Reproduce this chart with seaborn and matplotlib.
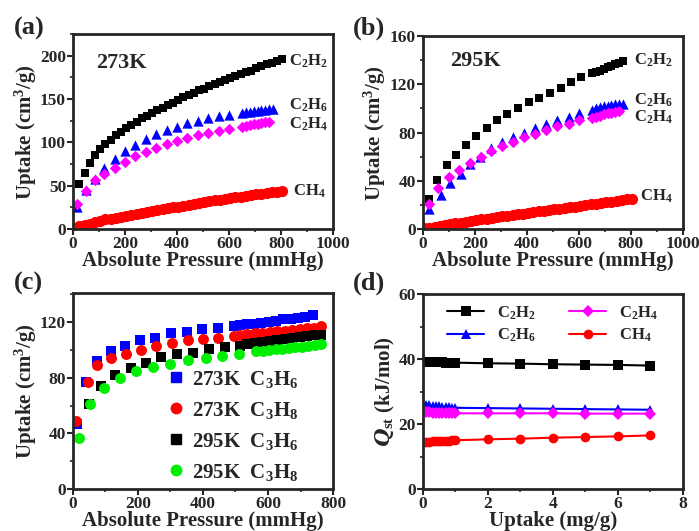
import matplotlib
matplotlib.use("Agg")
import matplotlib.pyplot as plt
from matplotlib.ticker import MultipleLocator
import seaborn as sns

# ---- (a) 273 K isotherms ----
a_c2h2_x = [8, 25, 45, 65, 85, 105, 125, 145, 165, 185, 205, 225, 245, 265, 285, 305, 325, 345, 365, 385, 405,
            425, 445, 465, 485, 505, 525, 545, 565, 585, 605, 625, 645, 665, 685, 705, 725, 745, 765, 785, 805]
a_c2h2_y = [24, 52, 65, 76, 85, 92, 98, 103, 108, 112, 117, 120, 124, 128, 131, 134, 137, 140, 143, 146, 149,
            152, 155, 157, 160, 162, 165, 167, 170, 172, 174, 177, 179, 181, 183, 186, 188, 190, 192, 194, 196]
a_c2h6_x = [15, 50, 85, 120, 160, 200, 240, 280, 320, 360, 400, 440, 480, 520, 560, 600, 650, 665, 680, 695,
            710, 725, 740, 755, 770]
a_c2h6_y = [25, 45, 58, 70, 81, 90, 97, 104, 110, 114, 118, 122, 125, 128, 130, 132, 134, 135, 135, 136,
            136, 137, 137, 138, 138]
a_c2h4_x = [15, 50, 85, 120, 160, 200, 240, 280, 320, 360, 400, 440, 480, 520, 560, 600, 650, 665, 680, 695,
            710, 725, 740, 755]
a_c2h4_y = [29, 44, 57, 64, 71, 77, 84, 89, 94, 98, 102, 105, 108, 111, 113, 116, 118, 119, 120, 121,
            121, 122, 123, 124]
a_ch4_x = [5, 25, 45, 65, 85, 105, 125, 145, 165, 185, 205, 225, 245, 265, 285, 305, 325, 345, 365, 385, 405,
           425, 445, 465, 485, 505, 525, 545, 565, 585, 605, 625, 645, 665, 685, 705, 725, 745, 765, 785, 805]
a_ch4_y = [1, 3, 5, 6, 8, 9, 11, 12, 13, 14, 15, 16.5, 17.5, 19, 20, 21, 22, 23, 24, 25, 26,
           27, 28, 29, 30, 31, 32, 33, 34, 35, 35.5, 36.5, 37.5, 38.5, 39, 40, 41, 42, 42.5, 43, 44]

# ---- (b) 295 K isotherms ----
b_c2h2_x = [24, 56, 92, 128, 166, 205, 246, 284, 325, 367, 408, 448, 489, 530, 570, 609, 650, 665, 680, 695,
            710, 725, 740, 755, 770]
b_c2h2_y = [25, 41, 53, 61, 70, 77, 84, 90, 95, 100, 105, 109, 113, 117, 122, 126, 129, 130, 131, 133,
            134, 135, 137, 138, 139]
b_c2h6_x = [24, 68, 105, 145, 182, 220, 262, 304, 345, 389, 433, 475, 517, 560, 602, 650, 665, 680, 695,
            710, 725, 740, 755, 770]
b_c2h6_y = [17, 28, 38, 46, 54, 60, 67, 72, 76, 80, 84, 87, 90, 93, 96, 99, 100, 101, 102,
            102, 103, 104, 104, 104]
b_c2h4_x = [24, 60, 100, 140, 180, 222, 262, 304, 345, 389, 433, 475, 517, 560, 602, 650, 665, 680, 695,
            710, 725, 740, 755]
b_c2h4_y = [21, 34, 43, 49, 55, 60, 65, 69, 72, 76, 79, 82, 85, 87, 90, 92, 93, 94, 95,
            96, 96, 97, 98]
b_ch4_x = [5, 25, 45, 65, 85, 105, 125, 145, 165, 185, 205, 225, 245, 265, 285, 305, 325, 345, 365, 385, 405,
           425, 445, 465, 485, 505, 525, 545, 565, 585, 605, 625, 645, 665, 685, 705, 725, 745, 765, 785, 805]
b_ch4_y = [0.5, 1.2, 2, 2.7, 3.4, 4, 4.7, 5.4, 6, 6.7, 7.3, 8, 8.6, 9.2, 9.8, 10.4, 11, 11.6, 12.2, 12.8, 13.4,
           14, 14.6, 15.2, 15.8, 16.4, 17, 17.5, 18, 18.6, 19.2, 19.8, 20.4, 21, 21.6, 22.2, 22.8, 23.4, 24, 24.6, 25.2]

# ---- (c) C3 isotherms ----
c_273_c3h6_x = [12, 40, 74, 116, 159, 205, 252, 303, 351, 398, 445, 494, 513, 535, 557, 580, 602, 625, 647,
                670, 692, 715, 737]
c_273_c3h6_y = [47, 77, 92, 99, 103, 107, 109, 112, 113, 115, 116, 117, 118, 118.5, 119, 119.5, 120, 121, 122,
                122.5, 123, 124, 125]
c_273_c3h8_x = [10, 46, 74, 116, 162, 210, 256, 305, 353, 400, 447, 495, 513, 536, 559, 582, 605, 628, 651,
                674, 697, 720, 743, 764]
c_273_c3h8_y = [49, 77, 89, 94, 97, 100, 103, 105, 107, 108, 109, 110, 111, 111.5, 112, 112.5, 113, 113.5, 114,
                114.5, 115, 116, 116, 117]
c_295_c3h6_x = [49, 87, 129, 177, 224, 272, 320, 369, 418, 467, 513, 536, 559, 582, 605, 628, 651, 674, 697,
                720, 743, 764]
c_295_c3h6_y = [61, 74, 82, 87, 91, 95, 97, 98, 101, 102, 103, 104, 105, 106, 106.5, 107, 108, 109, 109.5,
                110, 110.5, 111]
c_295_c3h8_x = [18, 53, 95, 144, 195, 246, 299, 354, 408, 459, 511, 564, 584, 604, 624, 644, 664, 684, 704,
                724, 744, 764]
c_295_c3h8_y = [37, 61, 73, 80, 85, 88, 90, 93, 94, 96, 97, 99, 99.5, 100, 100.5, 101, 101.5, 102, 102.5,
                103, 103.5, 104]

# ---- (d) isosteric heats ----
d_x = [0.1, 0.2, 0.3, 0.4, 0.5, 0.6, 0.7, 0.8, 0.9, 1.0, 2, 3, 4, 5, 6, 7]
d_c2h2 = [39.2, 39.1, 39.1, 39.0, 39.0, 39.0, 38.9, 38.9, 38.9, 38.9, 38.7, 38.6, 38.4, 38.3, 38.2, 38.0]
d_c2h6 = [26.0, 25.8, 25.6, 25.5, 25.4, 25.3, 25.2, 25.1, 25.0, 25.0, 24.9, 24.8, 24.7, 24.6, 24.5, 24.4]
d_c2h4 = [23.8, 23.6, 23.5, 23.4, 23.4, 23.4, 23.3, 23.3, 23.3, 23.3, 23.3, 23.3, 23.3, 23.2, 23.2, 23.2]
d_ch4 = [14.6, 14.6, 14.7, 14.7, 14.8, 14.8, 14.9, 14.9, 15.0, 15.0, 15.3, 15.5, 15.8, 16.0, 16.2, 16.5]

sns.set_style("ticks")
plt.rcParams["font.family"] = ["Liberation Serif", "DejaVu Serif"]
plt.rcParams["font.weight"] = "bold"
plt.rcParams["axes.labelweight"] = "bold"
plt.rcParams["mathtext.fontset"] = "custom"
plt.rcParams["mathtext.rm"] = "Liberation Serif:weight=bold"
plt.rcParams["mathtext.it"] = "DejaVu Serif:style=italic:weight=bold"
plt.rcParams["mathtext.bf"] = "Liberation Serif:weight=bold"
plt.rcParams["mathtext.default"] = "rm"

TICK = 12.5
LAB = 15

fig = plt.figure(figsize=(6.99, 5.31), dpi=100)
ax_a = fig.add_axes([0.1044, 0.5687, 0.372, 0.367])
ax_b = fig.add_axes([0.605, 0.5687, 0.372, 0.3635])
ax_c = fig.add_axes([0.1044, 0.0791, 0.372, 0.369])
ax_d = fig.add_axes([0.605, 0.0791, 0.372, 0.367])


def style(ax, xlim, ylim, xmaj, ymaj, xlabel, ylabel):
    ax.set_xlim(*xlim)
    ax.set_ylim(*ylim)
    ax.xaxis.set_major_locator(MultipleLocator(xmaj))
    ax.xaxis.set_minor_locator(MultipleLocator(xmaj / 2))
    ax.yaxis.set_major_locator(MultipleLocator(ymaj))
    ax.yaxis.set_minor_locator(MultipleLocator(ymaj / 2))
    ax.tick_params(which="major", direction="out", length=4, width=1.5, labelsize=TICK, pad=1)
    ax.tick_params(which="minor", direction="out", length=2.5, width=1.2)
    for s in ax.spines.values():
        s.set_linewidth(2)
        s.set_visible(True)
    ax.set_xlabel(xlabel, fontsize=LAB, fontweight="bold", labelpad=-1)
    ax.set_ylabel(ylabel, fontsize=LAB, fontweight="bold", labelpad=1)


def pts(ax, x, y, color, marker, s):
    sns.scatterplot(x=x, y=y, ax=ax, color=color, marker=marker, s=s, linewidth=0)


# (a)
pts(ax_a, a_ch4_x, a_ch4_y, "#ff0000", "o", 65)
pts(ax_a, a_c2h2_x, a_c2h2_y, "black", "s", 40)
pts(ax_a, a_c2h6_x, a_c2h6_y, "#0000ff", "^", 55)
pts(ax_a, a_c2h4_x, a_c2h4_y, "#ff00ff", "D", 34)
style(ax_a, (0, 1000), (0, 225), 200, 50, "Absolute Pressure (mmHg)", "Uptake (cm$^3$/g)")
ax_a.set_yticks([0, 50, 100, 150, 200])
ax_a.text(90, 192, "273K", fontsize=16, fontweight="bold", va="center")
for lab, yy in [("C$_2$H$_2$", 194), ("C$_2$H$_6$", 143), ("C$_2$H$_4$", 121), ("CH$_4$", 43)]:
    ax_a.text(830 if lab != "CH$_4$" else 845, yy, lab, fontsize=12, va="center")

# (b)
pts(ax_b, b_ch4_x, b_ch4_y, "#ff0000", "o", 65)
pts(ax_b, b_c2h2_x, b_c2h2_y, "black", "s", 40)
pts(ax_b, b_c2h6_x, b_c2h6_y, "#0000ff", "^", 55)
pts(ax_b, b_c2h4_x, b_c2h4_y, "#ff00ff", "D", 34)
style(ax_b, (0, 1000), (0, 160), 200, 40, "Absolute Pressure (mmHg)", "Uptake (cm$^3$/g)")
ax_b.text(105, 139, "295K", fontsize=16, fontweight="bold", va="center")
for lab, yy in [("C$_2$H$_2$", 140), ("C$_2$H$_6$", 107), ("C$_2$H$_4$", 93), ("CH$_4$", 27)]:
    ax_b.text(810 if lab != "CH$_4$" else 835, yy, lab, fontsize=12, va="center")

# (c)
pts(ax_c, c_273_c3h6_x, c_273_c3h6_y, "#0000ff", "s", 50)
pts(ax_c, c_273_c3h8_x, c_273_c3h8_y, "#ff0000", "o", 62)
pts(ax_c, c_295_c3h6_x, c_295_c3h6_y, "black", "s", 50)
pts(ax_c, c_295_c3h8_x, c_295_c3h8_y, "#00ee00", "o", 62)
style(ax_c, (0, 800), (0, 141), 200, 40, "Absolute Pressure (mmHg)", "Uptake (cm$^3$/g)")
ax_c.legend(handles=[
    plt.Line2D([], [], ls="", marker="s", color="#0000ff", ms=6.5, label="273K  C$_3$H$_6$"),
    plt.Line2D([], [], ls="", marker="o", color="#ff0000", ms=7.5, label="273K  C$_3$H$_8$"),
    plt.Line2D([], [], ls="", marker="s", color="black", ms=6.5, label="295K  C$_3$H$_6$"),
    plt.Line2D([], [], ls="", marker="o", color="#00ee00", ms=7.5, label="295K  C$_3$H$_8$"),
], loc="lower right", frameon=False, fontsize=15, handlelength=0.6, handletextpad=0.5,
    labelspacing=0.48, borderaxespad=0.0, bbox_to_anchor=(0.9, -0.01))

# (d)
for yv, col, mk, lab in [(d_c2h2, "black", "s", "C$_2$H$_2$"), (d_c2h6, "#0000ff", "^", "C$_2$H$_6$"),
                         (d_c2h4, "#ff00ff", "D", "C$_2$H$_4$"), (d_ch4, "#ff0000", "o", "CH$_4$")]:
    sns.lineplot(x=d_x, y=yv, ax=ax_d, color=col, marker=mk, markersize=7 if mk != "D" else 6,
                 markeredgewidth=0, linewidth=1.5, label=lab)
style(ax_d, (0, 8), (0, 60), 2, 20, "Uptake (mg/g)", "$\\mathit{Q}_{\\mathrm{st}}$ (kJ/mol)")
ax_d.legend(loc="upper center", ncol=2, frameon=False, fontsize=12, handlelength=2.2,
            columnspacing=2.0, labelspacing=0.3, borderaxespad=0.2)

for t, x, y in [("(a)", 0.02, 0.935), ("(b)", 0.505, 0.935), ("(c)", 0.02, 0.455), ("(d)", 0.505, 0.455)]:
    fig.text(x, y, t, fontsize=19, fontweight="bold")

fig.savefig("out.png", dpi=100)
